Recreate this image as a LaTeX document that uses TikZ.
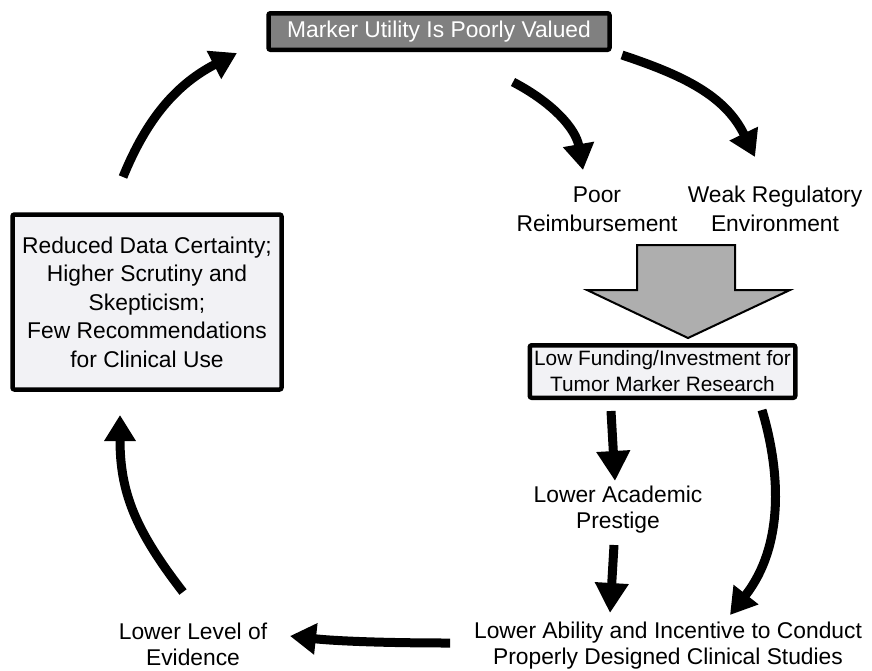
\documentclass[tikz,border=0pt]{standalone}
\usepackage{fontspec}
\setmainfont{Liberation Sans}
\usetikzlibrary{arrows.meta}
\definecolor{headfill}{RGB}{128,128,128}
\definecolor{boxfill}{RGB}{242,242,245}
\definecolor{bigarrow}{RGB}{174,174,174}
\begin{document}
\begin{tikzpicture}[x=1pt,y=-1pt,
  txt/.style={font=\fontsize{22.8}{26}\selectfont, align=center, inner sep=0pt},
  framed/.style={draw=black, line width=4.5pt, rounded corners=2pt, inner sep=0pt},
  flow/.style={line width=9pt, -{Triangle[length=26pt,width=30pt]}},
  straightflow/.style={line width=9pt, -{Triangle[length=30pt,width=32pt]}}
]
\useasboundingbox (0,0) rectangle (872,670);

% boxes
\node[framed, fill=headfill, text=white, txt, minimum width=341, minimum height=36.5]
  (top) at (439,31.5) {Marker Utility Is Poorly Valued};
\node[framed, fill=boxfill, txt, font=\fontsize{22.8}{28.5}\selectfont,
  minimum width=269, minimum height=175]
  (left) at (147,302) {Reduced Data Certainty;\\Higher Scrutiny and\\Skepticism;\\Few Recommendations\\for Clinical Use};
\node[framed, fill=boxfill, txt, font=\fontsize{20.8}{26}\selectfont,
  minimum width=265.5, minimum height=52.5]
  (fund) at (662.5,371.5) {Low Funding/Investment for\\Tumor Marker Research};

% plain labels
\node[txt, font=\fontsize{22.8}{29}\selectfont] (poor) at (597,209) {Poor\\Reimbursement};
\node[txt, font=\fontsize{22.8}{29}\selectfont] (weak) at (775,209) {Weak Regulatory\\Environment};
\node[txt] (prest) at (618,510) {Lower Academic\\Prestige};
\node[txt] (ability) at (668,646) {Lower Ability and Incentive to Conduct\\Properly Designed Clinical Studies};
\node[txt] (level) at (193,644.5) {Lower Level of\\Evidence};

% connector end points
\coordinate (aS) at (513,82);   \coordinate (aT) at (583,170);
\coordinate (bS) at (622,55);   \coordinate (bT) at (755,157);
\coordinate (cS) at (123,177);  \coordinate (cT) at (237,53);
\coordinate (dS) at (183,592);  \coordinate (dT) at (120,415);
\coordinate (eS) at (450,643);  \coordinate (eT) at (290,636);
\coordinate (fS) at (611,411);  \coordinate (fT) at (615,481);
\coordinate (gS) at (614,545);  \coordinate (gT) at (610,613);
\coordinate (hS) at (762,410);  \coordinate (hT) at (730,615);

% curved arrows of the cycle
\draw[flow] (aS) .. controls (555,104) and (576,130) .. (aT);
\draw[flow] (bS) .. controls (682,75) and (725,95) .. (bT);
\draw[flow] (cS) .. controls (147,118) and (177,84) .. (cT);
\draw[flow] (dS) .. controls (135,530) and (120,492) .. (dT);
\draw[flow] (eS) .. controls (385,643) and (335,641) .. (eT);
\draw[straightflow] (fS) -- (fT);
\draw[straightflow] (gS) -- (gT);
\draw[flow] (hS) .. controls (780,470) and (785,545) .. (hT);

% wide block arrow into the funding box
\draw[fill=bigarrow, line width=2pt, line join=miter]
  (637,245) -- (735,245) -- (735,290) -- (790,290) -- (688,338)
  -- (587,290) -- (637,290) -- cycle;
\end{tikzpicture}
\end{document}
